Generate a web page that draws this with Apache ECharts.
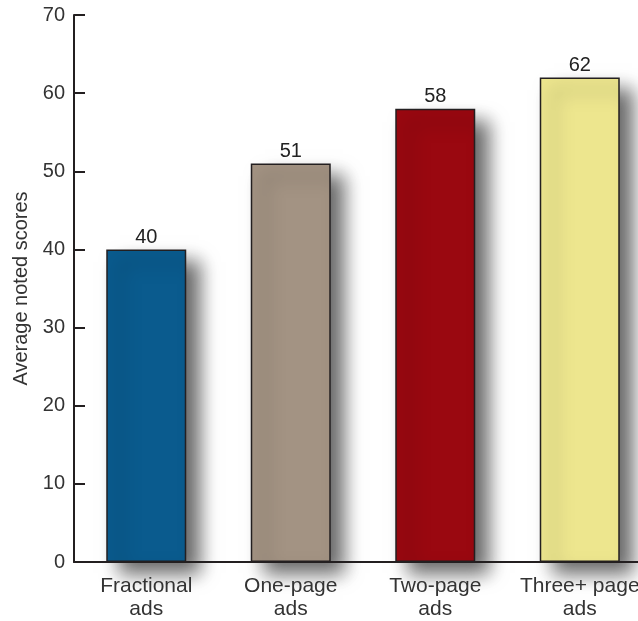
<!DOCTYPE html>
<html>
<head>
<meta charset="utf-8">
<script src="https://cdn.jsdelivr.net/npm/echarts@6/dist/echarts.min.js"></script>
<style>html,body{margin:0;padding:0;background:#fff}#c{width:638px;height:621px}</style>
</head>
<body>
<div id="c"></div>
<script>
const categories = ["Fractional\nads", "One-page\nads", "Two-page\nads", "Three+ page\nads"];
const values = [40, 51, 58, 62];
const colors = ["#0a5b8e", "#a39383", "#9a0810", "#ede68e"];
const yTicks = [0, 10, 20, 30, 40, 50, 60, 70];

const chart = echarts.init(document.getElementById('c'));
const font = "'Liberation Sans', Arial, Helvetica, sans-serif";
chart.setOption({
  animation: false,
  grid: { left: 74, width: 578, top: 15, bottom: 59, containLabel: false, outerBoundsMode: 'none' },
  xAxis: {
    type: 'category',
    data: categories,
    z: 5,
    axisLine: { lineStyle: { color: '#231f20', width: 2 } },
    axisTick: { show: false },
    axisLabel: { color: '#333', fontSize: 21, fontFamily: font, margin: 13, lineHeight: 23, interval: 0 }
  },
  yAxis: {
    type: 'value',
    min: yTicks[0], max: yTicks[yTicks.length - 1], interval: 10,
    name: 'Average noted scores',
    nameLocation: 'middle',
    nameGap: 43,
    nameTextStyle: { color: '#333', fontSize: 20, fontFamily: font },
    axisLine: { show: true, lineStyle: { color: '#231f20', width: 2 } },
    axisTick: { show: true, inside: true, length: 11, lineStyle: { color: '#231f20', width: 2 } },
    axisLabel: { color: '#333', fontSize: 20, fontFamily: font, margin: 9 },
    splitLine: { show: false }
  },
  series: [{
    type: 'bar',
    barWidth: 80,
    data: values.map((v, i) => ({
      value: v,
      itemStyle: {
        color: colors[i],
        borderColor: '#231f20',
        borderWidth: 1.5,
        shadowColor: 'rgba(0,0,0,0.6)',
        shadowBlur: 18,
        shadowOffsetX: 13,
        shadowOffsetY: 12
      }
    })),
    label: { show: true, position: 'top', distance: 2, color: '#222', fontSize: 20, fontFamily: font }
  }]
});
</script>
</body>
</html>
